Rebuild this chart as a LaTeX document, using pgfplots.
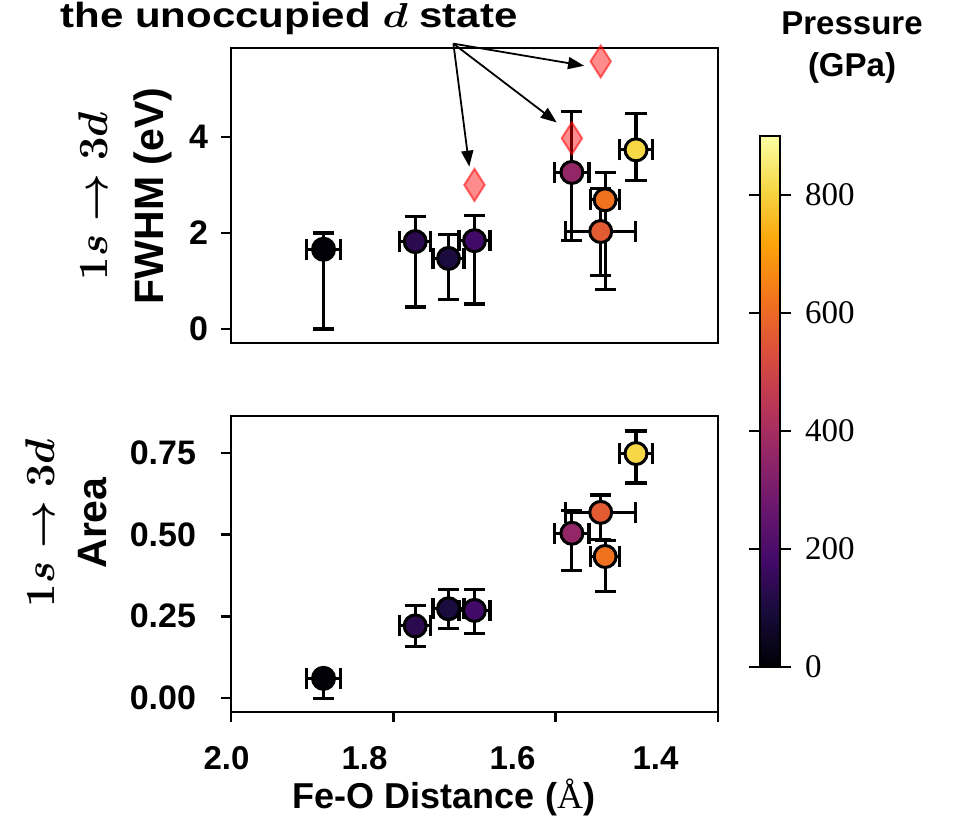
\documentclass[border=0pt]{standalone}
\usepackage[no-math]{fontspec}
\setmainfont{Liberation Sans}
\newfontfamily\serifnum{Liberation Serif}
\usepackage{graphicx}
\usepackage{pgfplots}
\pgfplotsset{compat=1.18}
\usepackage{pgfplotstable}
\usetikzlibrary{arrows.meta}

\pgfplotsset{
  colormap={inferno}{rgb255=(0,0,4) rgb255=(22,11,57) rgb255=(66,10,104) rgb255=(106,23,110) rgb255=(147,38,103) rgb255=(188,55,84) rgb255=(221,81,58) rgb255=(243,118,27) rgb255=(252,165,10) rgb255=(246,215,70) rgb255=(252,255,164)},
  mystyle/.style={
    scale only axis, anchor=south west, width=243.5pt,
    xmin=1.4, xmax=2.0, x dir=reverse,
    tick align=outside, ytick pos=left, xtick pos=bottom,
    major tick length=5pt,
    tick style={black, line width=1.3pt},
    axis line style={line width=1.3pt},
    clip=false,
    colormap name=inferno, point meta min=0, point meta max=900,
  },
  pts/.style={scatter, only marks, mark=*, mark size=5.5pt,
    scatter/use mapped color={draw=black, fill=mapped color, line width=1.5pt},
    point meta=explicit,
    error bars/.cd, x dir=both, x explicit, y dir=both, y explicit,
    error bar style={black, line width=1.6pt},
    error mark options={rotate=90, black, mark size=5.3pt, line width=1.6pt}},
}

\pgfplotstableread{
x     y     ex     eyp   eym   p
1.886 1.66  0.021  0.34  1.66  5
1.773 1.82  0.019  0.53  1.36  135
1.732 1.47  0.019  0.49  0.85  100
1.700 1.84  0.019  0.52  1.32  180
1.580 3.26  0.021  1.27  1.41  360
1.5445 2.03 0.043  0.90  0.92  565
1.539 2.69  0.018  0.57  1.86  620
1.501 3.73  0.020  0.75  0.64  810
}\fwhm

\pgfplotstableread{
x     y      ex     eyp    eym    p
1.886 0.060  0.021  0.000  0.062  5
1.773 0.2205 0.019  0.063  0.063  135
1.732 0.273  0.019  0.060  0.060  100
1.700 0.268  0.019  0.064  0.071  180
1.580 0.504  0.021  0.069  0.114  360
1.5445 0.568 0.043  0.053  0.084  565
1.539 0.433  0.018  0.050  0.107  620
1.501 0.748  0.020  0.069  0.090  810
}\area

\begin{document}
\begin{tikzpicture}
\useasboundingbox (0,0) rectangle (477pt,417pt);

% top panel
\begin{axis}[mystyle, at={(115.5pt,245.5pt)}, height=147.5pt,
  ymin=-0.29, ymax=5.85, xtick=\empty,
  ytick={0,2,4}, yticklabels={0,2,4},
  yticklabel style={font=\bfseries\fontsize{17}{17}\selectfont, xshift=-3pt}]
\addplot[pts] table[x=x, y=y, x error=ex, y error plus=eyp, y error minus=eym, meta=p] {\fwhm};
\addplot[only marks, mark=diamond*, mark size=8pt,
  mark options={xscale=0.85, fill=red, fill opacity=0.45, draw=red, draw opacity=0.55, line width=1pt}]
  coordinates {(1.700,3.0) (1.580,3.97) (1.5445,5.57)};
\draw[-{Triangle[length=8pt,width=6pt]}, line width=0.9pt] (axis cs:1.726,5.94) -- (axis cs:1.7064,3.38);
\draw[-{Triangle[length=8pt,width=6pt]}, line width=0.9pt] (axis cs:1.726,5.94) -- (axis cs:1.5987,4.30);
\draw[-{Triangle[length=8pt,width=6pt]}, line width=0.9pt] (axis cs:1.726,5.94) -- (axis cs:1.565,5.48);
\end{axis}

% bottom panel
\begin{axis}[mystyle, at={(115.5pt,61pt)}, height=148pt,
  ymin=-0.043, ymax=0.863,
  xtick={1.4,1.6,1.8,2.0}, xticklabels={,,,},
  ytick={0,0.25,0.5,0.75}, yticklabels={0.00,0.25,0.50,0.75},
  yticklabel style={font=\bfseries\fontsize{17}{17}\selectfont, xshift=-9pt},
  colorbar,
  colorbar style={
    at={(parent axis.south east)}, anchor=south west, xshift=12.5pt, yshift=22.5pt,
    scale only axis, width=10pt, height=265.5pt,
    ytick={0,200,400,600,800}, yticklabels={0,200,400,600,800},
    yticklabel style={font=\serifnum\fontsize{16.5}{16.5}\selectfont, xshift=3.5pt},
    tick align=outside, major tick length=5.5pt,
    tick style={black, line width=1.3pt},
    axis line style={line width=1.3pt},
  }]
\addplot[pts] table[x=x, y=y, x error=ex, y error plus=eyp, y error minus=eym, meta=p] {\area};
\end{axis}

% x tick labels (as placed in the original figure)
\begin{scope}[every node/.style={font=\bfseries\fontsize{16.5}{16.5}\selectfont, anchor=base, inner sep=0pt}]
\node at (113.25pt,32pt) {2.0};
\node at (182.25pt,32pt) {1.8};
\node at (256.25pt,32pt) {1.6};
\node at (327.75pt,32pt) {1.4};
\end{scope}

% x label
\node[font=\bfseries\fontsize{18}{18}\selectfont, anchor=base, inner sep=0pt] at (222pt,12.5pt) {Fe-O Distance ({\serifnum\mdseries Å})};

% y labels
\node[rotate=90, align=center, inner sep=0pt, font=\bfseries\boldmath\fontsize{20.5}{28}\selectfont] at (62.5pt,319pt) {{\fontsize{21}{28}\selectfont$1s\rightarrow 3d$}\\FWHM (eV)};
\node[rotate=90, align=center, inner sep=0pt, font=\bfseries\boldmath\fontsize{20.5}{26}\selectfont] at (33pt,155.5pt) {{\fontsize{21}{26}\selectfont$1s\rightarrow 3d$}\\Area};

% title
\node[font=\bfseries\boldmath\fontsize{17.5}{17.5}\selectfont, anchor=base, inner sep=0pt] at (144.5pt,403pt) {\scalebox{1.2}[1]{the unoccupied {\fontsize{19}{19}\selectfont$d$} state}};

% colorbar title
\node[font=\bfseries\fontsize{16.5}{16.5}\selectfont, anchor=base, inner sep=0pt] at (426pt,399.5pt) {Pressure};
\node[font=\bfseries\fontsize{16.5}{16.5}\selectfont, anchor=base, inner sep=0pt] at (426pt,378.5pt) {(GPa)};
\end{tikzpicture}
\end{document}
